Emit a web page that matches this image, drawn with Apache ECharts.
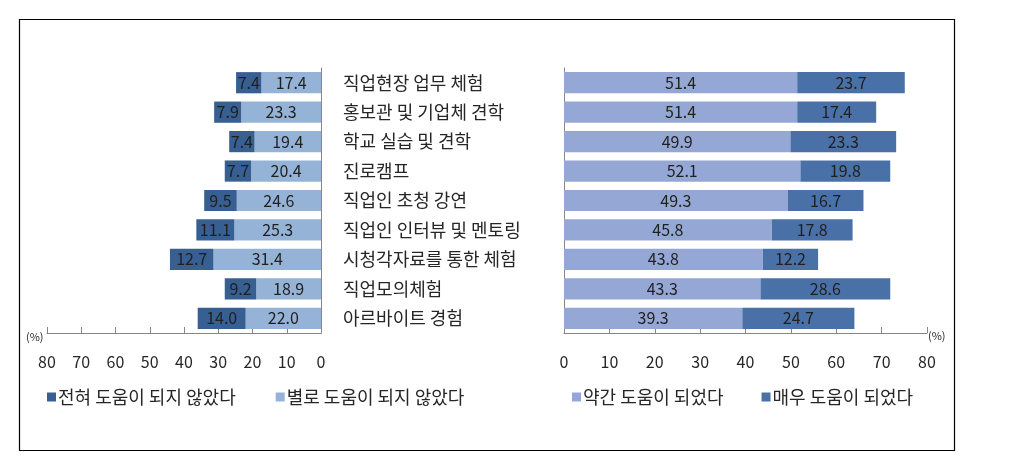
<!DOCTYPE html>
<html>
<head>
<meta charset="utf-8">
<script src="https://cdn.jsdelivr.net/npm/echarts@6/dist/echarts.min.js"></script>
<style>
  html, body { margin: 0; padding: 0; background: #fff; }
  #chart { width: 1015px; height: 463px; }
</style>
</head>
<body>
<div id="chart"></div>
<script>
// categories (top to bottom)
const categories = [
    '직업현장 업무 체험', '홍보관 및 기업체 견학', '학교 실습 및 견학', '진로캠프',
    '직업인 초청 강연', '직업인 인터뷰 및 멘토링', '시청각자료를 통한 체험',
    '직업모의체험', '아르바이트 경험'
]
const notAtAll = [7.4, 7.9, 7.4, 7.7, 9.5, 11.1, 12.7, 9.2, 14.0]
const notMuch = [17.4, 23.3, 19.4, 20.4, 24.6, 25.3, 31.4, 18.9, 22.0]
const somewhat = [51.4, 51.4, 49.9, 52.1, 49.3, 45.8, 43.8, 43.3, 39.3]
const veryMuch = [23.7, 17.4, 23.3, 19.8, 16.7, 17.8, 12.2, 28.6, 24.7]
const ticks = [0, 10, 20, 30, 40, 50, 60, 70, 80]

const names = ['전혀 도움이 되지 않았다', '별로 도움이 되지 않았다', '약간 도움이 되었다', '매우 도움이 되었다']
const colors = ['#375F92', '#95B3D7', '#95A8D5', '#4A70A8']

const font = '"Noto Sans CJK KR", "Noto Sans", sans-serif'
const textColor = '#262626'
const axisColor = '#868686'

const barLabel = {
    show: true,
    position: 'inside',
    color: '#1F1F1F',
    fontSize: 16,
    fontFamily: font,
    formatter: p => p.value.toFixed(1)
}

const xAxisBase = {
    type: 'value',
    min: ticks[0],
    max: ticks[ticks.length - 1],
    interval: 10,
    splitLine: { show: false },
    axisLine: { show: true, lineStyle: { color: axisColor } },
    axisTick: { show: true, inside: true, length: 6, lineStyle: { color: axisColor } },
    axisLabel: { color: textColor, fontSize: 16, fontFamily: font, margin: 21 }
}

const legendText = { color: textColor, fontSize: 18, fontFamily: font, padding: [0, 0, 0, -3] }

const chart = echarts.init(document.getElementById('chart'))
chart.setOption({
    animation: false,
    textStyle: { fontFamily: font },
    graphic: [
        { type: 'rect', shape: { x: 19.5, y: 19.5, width: 935, height: 431 },
          style: { fill: 'none', stroke: '#000', lineWidth: 1.2 } },
        { type: 'text', left: 26, top: 331,
          style: { text: '(%)', fill: textColor, fontSize: 11, fontFamily: font } },
        { type: 'text', left: 928, top: 330,
          style: { text: '(%)', fill: textColor, fontSize: 11, fontFamily: font } }
    ],
    legend: [{
        data: [names[0], names[1]],
        left: 42, top: 383,
        icon: 'rect', itemWidth: 9, itemHeight: 9, itemGap: 40,
        textStyle: legendText,
        selectedMode: false
    }, {
        data: [names[2], names[3]],
        left: 567, top: 383,
        icon: 'rect', itemWidth: 9, itemHeight: 9, itemGap: 38,
        textStyle: legendText,
        selectedMode: false
    }],
    grid: [
        { left: 47, right: 694, top: 68, bottom: 130 },
        { left: 564, right: 88, top: 68, bottom: 130 }
    ],
    xAxis: [
        Object.assign({}, xAxisBase, { gridIndex: 0, inverse: true }),
        Object.assign({}, xAxisBase, { gridIndex: 1 })
    ],
    yAxis: [{
        gridIndex: 0,
        type: 'category',
        data: categories,
        inverse: true,
        position: 'right',
        axisLine: { show: true, lineStyle: { color: axisColor } },
        axisTick: { show: false },
        axisLabel: { color: textColor, fontSize: 18, fontFamily: font, margin: 22, align: 'left' }
    }, {
        gridIndex: 1,
        type: 'category',
        data: categories,
        inverse: true,
        axisLine: { show: true, lineStyle: { color: axisColor } },
        axisTick: { show: false },
        axisLabel: { show: false }
    }],
    series: [{
        name: names[1], type: 'bar', stack: 'left', xAxisIndex: 0, yAxisIndex: 0,
        data: notMuch, barCategoryGap: '28%',
        itemStyle: { color: colors[1] }, label: barLabel
    }, {
        name: names[0], type: 'bar', stack: 'left', xAxisIndex: 0, yAxisIndex: 0,
        data: notAtAll, barCategoryGap: '28%',
        itemStyle: { color: colors[0] }, label: barLabel
    }, {
        name: names[2], type: 'bar', stack: 'right', xAxisIndex: 1, yAxisIndex: 1,
        data: somewhat, barCategoryGap: '28%',
        itemStyle: { color: colors[2] }, label: barLabel
    }, {
        name: names[3], type: 'bar', stack: 'right', xAxisIndex: 1, yAxisIndex: 1,
        data: veryMuch, barCategoryGap: '28%',
        itemStyle: { color: colors[3] }, label: barLabel
    }]
})
</script>
</body>
</html>
